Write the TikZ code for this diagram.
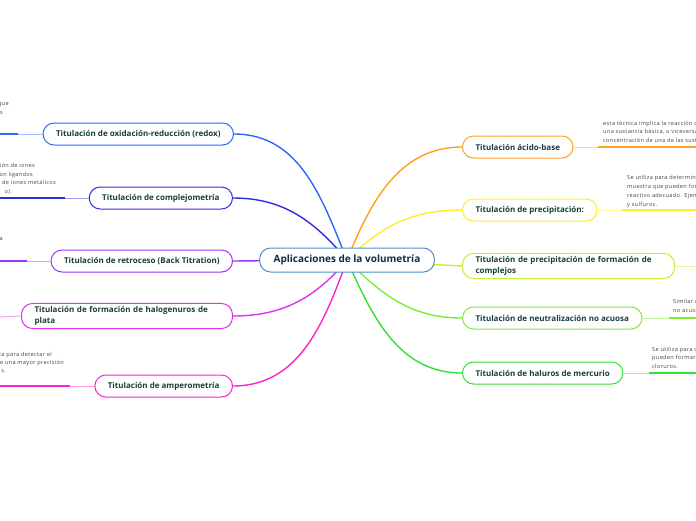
\documentclass[tikz,border=0pt]{standalone}
\usepackage{fontspec}
\setmainfont{Open Sans}
\usetikzlibrary{backgrounds}
\definecolor{txtdk}{HTML}{173F3A}
\definecolor{ctrtxt}{HTML}{14284B}
\definecolor{ctrbd}{HTML}{4A90D0}
\definecolor{cRedox}{HTML}{2F66FF}
\definecolor{cCompl}{HTML}{2E2EE0}
\definecolor{cRetro}{HTML}{9933FF}
\definecolor{cHalo}{HTML}{DD33EE}
\definecolor{cAmpe}{HTML}{FF22CC}
\definecolor{cAcid}{HTML}{FFA020}
\definecolor{cPrec}{HTML}{FFEE22}
\definecolor{cFcom}{HTML}{C4F032}
\definecolor{cNeut}{HTML}{77EE33}
\definecolor{cMerc}{HTML}{33E033}
\definecolor{smalltxt}{HTML}{444444}
\newcommand{\nohyphx}{\hyphenpenalty=10000\relax}
\begin{document}
\begin{tikzpicture}[x=1pt,y=-1pt,
  topic/.style={draw=#1, line width=1pt, rounded corners=11pt, fill=white, text=txtdk,
    font=\fontsize{8}{11}\selectfont\bfseries\nohyphx, inner xsep=13pt, inner ysep=3pt, minimum height=22pt},
  ctr/.style={draw=ctrbd, line width=1pt, rounded corners=11pt, fill=white, text=ctrtxt,
    font=\fontsize{10}{12}\selectfont\bfseries, inner xsep=14pt, minimum height=24pt},
  branch/.style={draw=#1, line width=1.4pt},
  thinl/.style={draw=#1!45!white, line width=1pt},
  thickl/.style={draw=#1, line width=2pt},
  small/.style={text=smalltxt, font=\fontsize{5.6}{8.5}\selectfont\addfontfeature{LetterSpace=6}, inner sep=0pt},
]
\useasboundingbox (0,0) rectangle (696,520);
\clip (0,0) rectangle (696,520);

% central node
\node[ctr] (c) at (347,260) {Aplicaciones de la volumetría};

% left topics
\node[topic=cRedox, anchor=east] (l1) at (234,134) {Titulación de oxidación-reducción (redox)};
\node[topic=cCompl, anchor=east] (l2) at (233,198) {Titulación de complejometría};
\node[topic=cRetro, anchor=east] (l3) at (233,261) {Titulación de retroceso (Back Titration)};
\node[topic=cHalo, anchor=east, text width=185pt, align=left] (l4) at (233,316) {Titulación de formación de halogenuros de plata};
\node[topic=cAmpe, anchor=east] (l5) at (233,386) {Titulación de amperometría};

% right topics
\node[topic=cAcid, anchor=west] (r1) at (462,147) {Titulación ácido-base};
\node[topic=cPrec, anchor=west] (r2) at (462,210) {Titulación de precipitación:};
\node[topic=cFcom, anchor=west, text width=186pt, align=left] (r3) at (462,266) {Titulación de precipitación de formación de complejos};
\node[topic=cNeut, anchor=west] (r4) at (462,318) {Titulación de neutralización no acuosa};
\node[topic=cMerc, anchor=west] (r5) at (462,373) {Titulación de haluros de mercurio};

% leaf connection points
\coordinate (l1a) at (18,134);  \coordinate (l1b) at (0,134);
\coordinate (l2a) at (65,198);  \coordinate (l2b) at (0,198);
\coordinate (l3a) at (27,261);  \coordinate (l3b) at (0,261);
\coordinate (l4a) at (0,317);
\coordinate (l5a) at (70,386);  \coordinate (l5b) at (0,386);
\coordinate (r1a) at (598,147); \coordinate (r1b) at (696,147);
\coordinate (r2a) at (622,210); \coordinate (r2b) at (696,210);
\coordinate (r3a) at (696,266);
\coordinate (r4a) at (669,318); \coordinate (r4b) at (696,318);
\coordinate (r5a) at (649,373); \coordinate (r5b) at (696,373);

\begin{scope}[on background layer]
  % main branches
  \draw[branch=cRedox] (c.center) to[out=112, in=0] (l1.east);
  \draw[branch=cCompl] (c.center) to[out=130, in=0] (l2.east);
  \draw[branch=cRetro] (c.center) -- (l3.east);
  \draw[branch=cHalo]  (c.center) to[out=230, in=0] (l4.east);
  \draw[branch=cAmpe]  (c.center) to[out=250, in=0] (l5.east);
  \draw[branch=cAcid]  (c.center) to[out=68, in=180] (r1.west);
  \draw[branch=cPrec]  (c.center) to[out=45, in=180] (r2.west);
  \draw[branch=cFcom]  (c.center) -- (r3.west);
  \draw[branch=cNeut]  (c.center) to[out=-45, in=180] (r4.west);
  \draw[branch=cMerc]  (c.center) to[out=-66, in=180] (r5.west);
\end{scope}

% leaf lines
\draw[thinl=cRedox] (l1.west) -- (l1a); \draw[thickl=cRedox] (l1a) -- (l1b);
\draw[thinl=cCompl] (l2.west) -- (l2a); \draw[thickl=cCompl] (l2a) -- (l2b);
\draw[thinl=cRetro] (l3.west) -- (l3a); \draw[thickl=cRetro] (l3a) -- (l3b);
\draw[thinl=cHalo]  (l4.west) -- (l4a);
\draw[thinl=cAmpe]  (l5.west) -- (l5a); \draw[thickl=cAmpe] (l5a) -- (l5b);
\draw[thinl=cAcid]  (r1.east) -- (r1a); \draw[thickl=cAcid] (r1a) -- (r1b);
\draw[thinl=cPrec]  (r2.east) -- (r2a); \draw[thickl=cPrec] (r2a) -- (r2b);
\draw[thinl=cFcom]  (r3.east) -- (r3a);
\draw[thinl=cNeut]  (r4.east) -- (r4a); \draw[thickl=cNeut] (r4a) -- (r4b);
\draw[thinl=cMerc]  (r5.east) -- (r5a); \draw[thickl=cMerc] (r5a) -- (r5b);

% left leaf texts (cut by the edge)
\node[small, anchor=base east] (t1a) at (9,105) {que};
\node[small, anchor=base east] (t1b) at (3,114) {s};
\node[small, anchor=base east] (t2a) at (35,167) {ción de iones};
\node[small, anchor=base east] (t2b) at (33,176) {con ligandos};
\node[small, anchor=base east] (t2c) at (56,184) {n de iones metálicos};
\node[small, anchor=base east] (t2d) at (12,193) {o).};
\node[small, anchor=base east] (t3a) at (3,240) {a};
\node[small, anchor=base east] (t5a) at (52,356) {ca para detectar el};
\node[small, anchor=base east] (t5b) at (64,364) {te una mayor precisión};
\node[small, anchor=base east] (t5c) at (6,372) {s.};

% right leaf texts (cut by the edge)
\node[small, anchor=base west] (u1a) at (603,125) {esta técnica implica la reacción d};
\node[small, anchor=base west] (u1b) at (603,133) {una sustancia básica, o viceversa,};
\node[small, anchor=base west] (u1c) at (603,142) {concentración de una de las susta};
\node[small, anchor=base west] (u2a) at (627,179) {Se utiliza para determina};
\node[small, anchor=base west] (u2b) at (627,188) {muestra que pueden form};
\node[small, anchor=base west] (u2c) at (627,197) {reactivo adecuado. Ejemp};
\node[small, anchor=base west] (u2d) at (627,206) {y sulfuros.};
\node[small, anchor=base west] (u4a) at (673,303) {Similar a};
\node[small, anchor=base west] (u4b) at (673,312) {no acuos};
\node[small, anchor=base west] (u5a) at (652,351) {Se utiliza para d};
\node[small, anchor=base west] (u5b) at (652,359) {pueden formar};
\node[small, anchor=base west] (u5c) at (652,368) {cloruros.};
\end{tikzpicture}
\end{document}
